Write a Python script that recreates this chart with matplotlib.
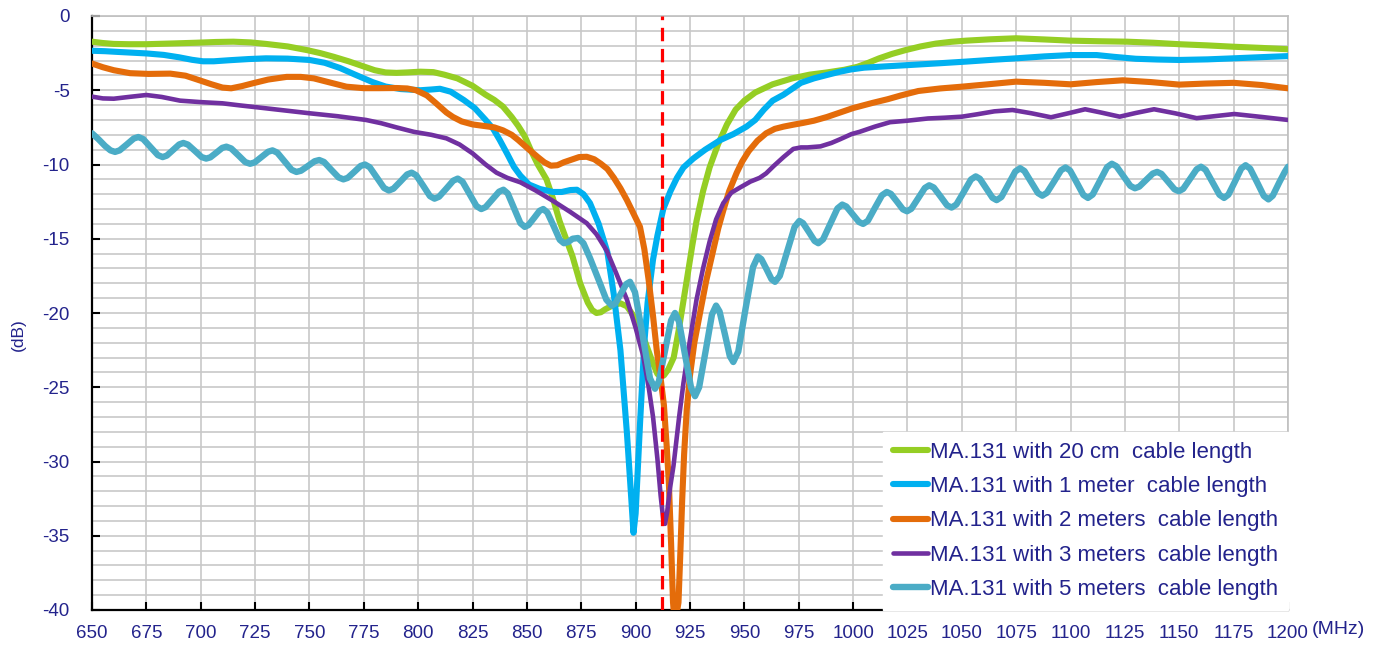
import numpy as np
import matplotlib.pyplot as plt
from matplotlib.ticker import MultipleLocator

# ---- data (frequency in MHz, level in dB) ----
f_20cm = [650, 655, 660, 667, 675, 687, 698, 707, 715, 723, 730, 740, 749, 755,
          761, 768, 775, 780, 785, 790, 795, 801, 807, 812, 818, 825, 831, 835,
          839, 843, 846, 849, 852, 855, 859, 862, 865, 868, 871, 874.5, 878, 880,
          882, 884, 886, 890, 893, 896, 900, 904, 908, 910, 911.5, 913, 915,
          917.5, 920, 923.5, 926, 928, 931, 934, 938, 942, 946, 950, 955, 963,
          972, 980, 988, 996, 1002, 1007, 1012, 1018, 1024, 1031, 1038, 1045,
          1052, 1063, 1075, 1088, 1100, 1113, 1126, 1138, 1150, 1163, 1175, 1188,
          1200]
db_20cm = [-1.73, -1.82, -1.88, -1.9, -1.9, -1.85, -1.8, -1.75, -1.73, -1.78,
           -1.88, -2.05, -2.3, -2.5, -2.74, -3.05, -3.4, -3.65, -3.8, -3.83, -3.8,
           -3.75, -3.78, -3.95, -4.2, -4.7, -5.3, -5.65, -6.1, -6.8, -7.4, -8.1,
           -9.1, -10.0, -11.0, -12.3, -13.8, -15.0, -16.2, -18.0, -19.3, -19.8,
           -20.0, -19.95, -19.75, -19.45, -19.35, -19.55, -20.4, -21.8, -23.4,
           -24.1, -24.3, -24.2, -23.8, -23.0, -21.0, -17.8, -15.5, -13.8, -11.8,
           -10.2, -8.6, -7.3, -6.3, -5.7, -5.15, -4.6, -4.2, -3.95, -3.8, -3.62,
           -3.42, -3.15, -2.85, -2.55, -2.3, -2.05, -1.86, -1.74, -1.66, -1.57,
           -1.5, -1.58, -1.66, -1.7, -1.73, -1.8, -1.9, -1.98, -2.07, -2.15, -2.24]

f_1m = [650, 656, 662, 675, 683, 690, 696, 701, 706, 713, 722, 730, 740, 750,
        757, 764, 771, 779, 785, 792, 801, 806, 810, 815, 821, 826, 831, 834.5,
        837.5, 841, 844, 847, 851, 856, 862, 866, 870, 873, 876, 879, 883, 887,
        890, 893, 896, 898, 899, 900, 902, 904, 905.5, 908, 910, 912.7, 916,
        919, 922, 926.5, 932, 939, 945, 951, 955, 959, 963, 968, 972, 976, 982,
        988, 994, 999, 1005, 1014, 1026, 1040, 1052, 1064, 1075, 1088, 1100,
        1112, 1120, 1130, 1140, 1150, 1163, 1175, 1188, 1200]
db_1m = [-2.34, -2.37, -2.42, -2.52, -2.62, -2.78, -2.95, -3.05, -3.05, -2.98,
         -2.9, -2.85, -2.87, -2.96, -3.15, -3.5, -3.95, -4.45, -4.75, -4.92,
         -5.0, -4.95, -4.9, -5.1, -5.66, -6.2, -7.0, -7.6, -8.35, -9.3, -10.15,
         -10.75, -11.35, -11.65, -11.85, -11.85, -11.72, -11.7, -12.0, -12.6,
         -14.0, -15.9, -18.8, -22.5, -28.1, -32.5, -34.8, -33.5, -27.5, -22.0,
         -19.3, -16.4, -14.8, -13.0, -11.8, -10.9, -10.2, -9.6, -9.0, -8.35,
         -7.95, -7.45, -7.0, -6.3, -5.7, -5.3, -4.9, -4.5, -4.2, -3.97, -3.75,
         -3.6, -3.48, -3.4, -3.3, -3.18, -3.07, -2.95, -2.85, -2.72, -2.63,
         -2.63, -2.75, -2.88, -2.93, -2.96, -2.92, -2.85, -2.77, -2.7]

f_2m = [650, 655, 660, 667.5, 676, 686, 693, 698, 705, 710, 714, 719, 724, 731,
        739.5, 746, 752, 760, 767, 775, 782, 790, 795, 799, 804, 808, 813, 816,
        820, 825, 830, 835, 839, 843, 846, 851, 855, 858, 861, 864, 867, 871,
        874, 877.5, 881, 884, 887, 890, 893, 896, 899, 902, 904, 906, 908,
        909.7, 911.5, 913, 914.3, 915.3, 916.3, 917.2, 918, 919.7, 920.6, 921.4,
        922.3, 923.5, 925, 927, 929.6, 932.5, 935.8, 938, 940.3, 943, 946.5,
        949, 952, 956, 960, 964, 968, 972.5, 977, 982, 988, 994, 1000, 1009,
        1016, 1022, 1030, 1040, 1050, 1062, 1075, 1088, 1100, 1112, 1124, 1137,
        1150, 1162, 1175, 1188, 1200]
db_2m = [-3.2, -3.45, -3.65, -3.85, -3.9, -3.88, -4.02, -4.26, -4.6, -4.82,
         -4.87, -4.72, -4.53, -4.28, -4.1, -4.1, -4.2, -4.5, -4.76, -4.86, -4.86,
         -4.85, -4.88, -5.0, -5.35, -5.85, -6.5, -6.8, -7.1, -7.3, -7.4, -7.5,
         -7.7, -8.0, -8.35, -9.0, -9.5, -9.85, -10.08, -10.05, -9.85, -9.65,
         -9.5, -9.48, -9.65, -9.95, -10.3, -10.9, -11.6, -12.4, -13.3, -14.2,
         -15.7, -17.8, -20.2, -22.5, -24.4, -26.2, -29.0, -31.5, -35.5, -39.5,
         -41.0, -39.5, -36.0, -32.6, -29.5, -26.5, -24.2, -22.0, -20.0, -17.8,
         -15.7, -14.3, -13.1, -11.8, -10.55, -9.8, -9.1, -8.4, -7.9, -7.6,
         -7.45, -7.32, -7.2, -7.05, -6.8, -6.5, -6.2, -5.85, -5.6, -5.35, -5.05,
         -4.88, -4.76, -4.6, -4.42, -4.5, -4.6, -4.45, -4.33, -4.45, -4.62,
         -4.55, -4.5, -4.65, -4.87]

f_3m = [650, 655, 660, 667, 675, 682, 690.5, 700, 710, 718, 726, 738, 750, 763,
        776, 783, 790, 798, 806, 813, 819, 825, 831, 836, 841, 847, 854, 862,
        870, 877.5, 882, 886.7, 891, 896, 900, 903.5, 906, 908, 910, 911.5,
        912.7, 913.5, 914.5, 915.8, 917.4, 920, 922, 925, 928, 931, 934, 937,
        940.3, 944, 948, 952.8, 957, 960, 963.5, 968, 972.5, 976, 979, 985, 990,
        994, 999.3, 1003, 1010, 1017, 1025, 1034.5, 1042, 1050, 1057, 1065,
        1073.3, 1082, 1091, 1099, 1106.7, 1114, 1122.6, 1130, 1138.4, 1148,
        1158, 1166, 1175.3, 1188, 1200]
db_3m = [-5.43, -5.55, -5.57, -5.45, -5.32, -5.45, -5.7, -5.8, -5.88, -6.02,
         -6.15, -6.35, -6.55, -6.75, -7.0, -7.22, -7.5, -7.8, -8.0, -8.24, -8.65,
         -9.25, -10.0, -10.55, -10.9, -11.2, -11.75, -12.45, -13.2, -13.95,
         -14.7, -15.8, -17.3, -19.1, -21.0, -22.9, -25.0, -27.0, -29.8, -32.3,
         -33.9, -34.2, -33.4, -31.8, -30.3, -27.0, -24.7, -21.8, -19.1, -17.0,
         -15.2, -13.7, -12.6, -11.9, -11.55, -11.15, -10.9, -10.6, -10.1, -9.5,
         -8.95, -8.85, -8.85, -8.78, -8.55, -8.3, -7.95, -7.8, -7.45, -7.15,
         -7.05, -6.9, -6.85, -6.78, -6.62, -6.42, -6.33, -6.55, -6.82, -6.55,
         -6.28, -6.5, -6.78, -6.53, -6.28, -6.55, -6.88, -6.75, -6.6, -6.8, -7.0]

f_5m = [650, 653, 656, 658.5, 660.6, 662.7, 666, 669.2, 671.3, 673.5, 676.9,
        680.3, 682.5, 684.4, 687.3, 690.1, 692, 694.1, 697.3, 700.4, 702.5,
        704.4, 707.2, 709.9, 711.8, 714, 717.3, 720.5, 722.7, 724.8, 727.9, 731,
        733, 735.2, 738.5, 741.8, 744, 746.1, 749.3, 752.4, 754.5, 756.7, 760,
        763.4, 765.6, 767.6, 770.6, 773.5, 775.5, 777.7, 781, 784.3, 786.5,
        788.6, 791.8, 794.9, 797, 799.1, 802.3, 805.4, 807.5, 809.6, 812.9,
        816.1, 818.2, 820.4, 823.6, 826.8, 829, 831, 834.1, 837.2, 839.2, 841.2,
        844.1, 847, 849, 850.7, 853.3, 855.8, 857.5, 859.4, 862.3, 865.1, 867,
        869, 871, 873.5, 876, 879, 883.6, 886.5, 889, 890.7, 893.2, 895.7, 897.4,
        899.7, 903.2, 906.6, 908.9, 910.7, 913.5, 916.3, 918.1, 919.9, 922.7,
        925.5, 927.3, 929.2, 932.2, 935.1, 937, 938.6, 941, 943.3, 944.9, 947.2,
        950.5, 954, 956.2, 957.8, 960.2, 962.5, 964.1, 966.3, 969.7, 973.1,
        975.3, 977, 979.7, 982.3, 984, 986.2, 989.5, 992.8, 995, 996.9, 999.8,
        1002.7, 1004.6, 1006.8, 1010, 1013.3, 1015.5, 1017.4, 1020.2, 1022.9,
        1024.8, 1026.8, 1029.9, 1033, 1035, 1037.1, 1040.2, 1043.2, 1045.3,
        1047.5, 1050.9, 1054.2, 1056.4, 1058.3, 1061.2, 1064.1, 1066, 1068.2,
        1071.4, 1074.6, 1076.8, 1078.8, 1081.9, 1085, 1087, 1089.1, 1092.4,
        1095.6, 1097.7, 1099.8, 1102.9, 1105.9, 1108, 1110.2, 1113.5, 1116.8,
        1119, 1121.1, 1124.3, 1127.5, 1129.6, 1131.6, 1134.7, 1137.8, 1139.8,
        1141.8, 1144.8, 1147.8, 1149.8, 1151.8, 1154.9, 1158, 1160, 1162.1,
        1165.3, 1168.5, 1170.6, 1172.6, 1175.6, 1178.5, 1180.5, 1182.6, 1185.8,
        1188.9, 1191, 1193, 1196, 1198.5, 1200]
db_5m = [-7.9, -8.3, -8.75, -9.05, -9.15, -9.05, -8.65, -8.25, -8.15, -8.28,
         -8.82, -9.37, -9.5, -9.4, -9.02, -8.65, -8.55, -8.66, -9.08, -9.5,
         -9.6, -9.52, -9.2, -8.88, -8.8, -8.92, -9.38, -9.84, -9.95, -9.86,
         -9.5, -9.14, -9.05, -9.2, -9.78, -10.36, -10.5, -10.42, -10.1, -9.78,
         -9.7, -9.83, -10.35, -10.87, -11.0, -10.9, -10.5, -10.1, -10.0, -10.18,
         -10.88, -11.58, -11.75, -11.63, -11.15, -10.67, -10.55, -10.73, -11.43,
         -12.13, -12.3, -12.17, -11.63, -11.09, -10.95, -11.16, -11.98, -12.8,
         -13.0, -12.87, -12.35, -11.83, -11.7, -11.95, -12.95, -13.95, -14.2,
         -14.08, -13.6, -13.12, -13.0, -13.23, -14.15, -15.07, -15.3, -15.22,
         -15.0, -14.95, -15.3, -16.3, -18.0, -19.1, -19.5, -19.35, -18.7, -18.05,
         -17.9, -18.6, -21.5, -24.4, -25.1, -24.6, -22.55, -20.5, -20.0, -20.56,
         -22.8, -25.04, -25.6, -25.0, -22.55, -20.1, -19.5, -19.9, -21.4, -22.9,
         -23.3, -22.6, -19.75, -16.9, -16.2, -16.37, -17.05, -17.73, -17.9,
         -17.5, -15.85, -14.2, -13.8, -13.95, -14.55, -15.15, -15.3, -15.04,
         -14.0, -12.96, -12.7, -12.83, -13.35, -13.87, -14.0, -13.79, -12.93,
         -12.07, -11.85, -11.98, -12.5, -13.02, -13.15, -12.98, -12.28, -11.58,
         -11.4, -11.55, -12.15, -12.75, -12.9, -12.69, -11.85, -11.01, -10.8,
         -10.96, -11.6, -12.24, -12.4, -12.19, -11.33, -10.47, -10.25, -10.44,
         -11.18, -11.92, -12.1, -11.91, -11.15, -10.39, -10.2, -10.41, -11.23,
         -12.05, -12.25, -12.02, -11.1, -10.18, -9.95, -10.12, -10.78, -11.44,
         -11.6, -11.49, -11.05, -10.61, -10.5, -10.63, -11.15, -11.67, -11.8,
         -11.64, -10.98, -10.32, -10.15, -10.36, -11.2, -12.04, -12.25, -12.03,
         -11.15, -10.27, -10.05, -10.28, -11.2, -12.12, -12.35, -12.1, -11.2,
         -10.5, -10.15]

labels = ['MA.131 with 20 cm  cable length',
          'MA.131 with 1 meter  cable length',
          'MA.131 with 2 meters  cable length',
          'MA.131 with 3 meters  cable length',
          'MA.131 with 5 meters  cable length']
marker_freq = 912

plt.rcParams['font.family'] = ['Liberation Sans', 'DejaVu Sans']
plt.rcParams['axes.unicode_minus'] = False
txt_color = '#23238C'

fig = plt.figure(figsize=(13.81, 6.46), dpi=100)
ax = fig.add_axes([92 / 1381, 36 / 646, (1288 - 92) / 1381, (610 - 16) / 646])

series = [(f_20cm, db_20cm, '#95CE24', 4.4),
          (f_1m, db_1m, '#00B0F0', 4.4),
          (f_2m, db_2m, '#E46C0A', 4.4),
          (f_3m, db_3m, '#7030A0', 3.3),
          (f_5m, db_5m, '#4BACC6', 4.6)]
for (fx, fy, col, lw), lab in zip(series, labels):
    ax.plot(fx, fy, color=col, lw=lw, label=lab, solid_joinstyle='round',
            solid_capstyle='round', zorder=3)

ax.axvline(marker_freq, color='#FF0000', lw=2.3, ls=(0, (4.2, 2.4)), zorder=5)

ax.set_xlim(650, 1200)
ax.set_ylim(-40, 0)
ax.xaxis.set_major_locator(MultipleLocator(25))
ax.yaxis.set_major_locator(MultipleLocator(5))
ax.yaxis.set_minor_locator(MultipleLocator(1))
ax.grid(True, which='major', color='#C8C8C8', lw=1.2, zorder=0)
ax.grid(True, which='minor', axis='y', color='#C8C8C8', lw=1.2, zorder=0)
ax.set_axisbelow(True)

ax.tick_params(axis='both', which='major', direction='in', length=6, width=1.5,
               colors='black', labelcolor=txt_color, labelsize=13.5)
ax.tick_params(axis='x', pad=11)
ax.tick_params(axis='y', pad=16)
ax.tick_params(axis='y', which='minor', length=0)
ax.tick_params(top=False, right=False)

for s in ['left', 'bottom']:
    ax.spines[s].set_color('black')
    ax.spines[s].set_linewidth(1.6)
for s in ['top', 'right']:
    ax.spines[s].set_color('#BFBFBF')
    ax.spines[s].set_linewidth(1.2)

fig.text(18 / 1381, 1 - 335 / 646, '(dB)', rotation=90, ha='center',
         va='center', color=txt_color, fontsize=12.5)
fig.text(1312 / 1381, 1 - 629 / 646, '(MHz)', ha='left', va='center',
         color=txt_color, fontsize=14)

leg = ax.legend(loc='lower right', borderaxespad=0.0, fontsize=16,
                frameon=True, fancybox=False, framealpha=1.0,
                edgecolor='white', handlelength=1.55, handletextpad=0.1,
                labelspacing=0.6, borderpad=0.45)
for t in leg.get_texts():
    t.set_color(txt_color)
leg.set_zorder(6)

fig.savefig('out.png', dpi=100)
